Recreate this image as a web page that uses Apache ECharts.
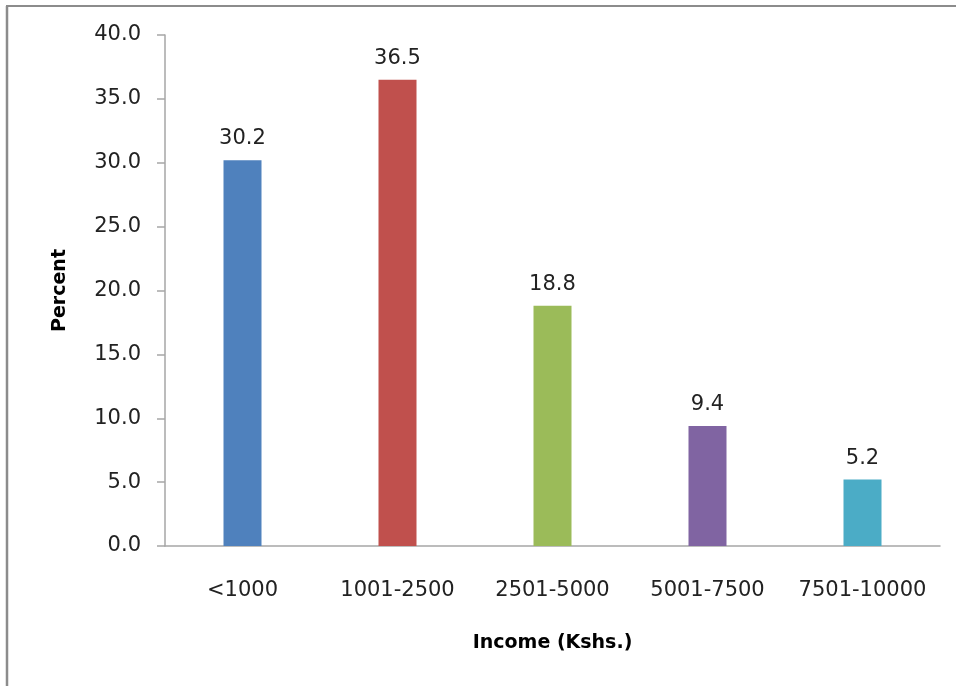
<!DOCTYPE html>
<html>
<head>
<meta charset="utf-8">
<script src="https://cdn.jsdelivr.net/npm/echarts@6/dist/echarts.min.js"></script>
<style>
  html, body { margin: 0; padding: 0; background: #ffffff; }
  #chart { width: 956px; height: 686px; }
</style>
</head>
<body>
<div id="chart"></div>
<script>
// Income groups (Kshs.) and share of respondents in each
const categories = ['<1000', '1001-2500', '2501-5000', '5001-7500', '7501-10000'];
const percents = [30.2, 36.5, 18.8, 9.4, 5.2];
const barColors = ['#4F81BD', '#C0504D', '#9BBB59', '#8064A2', '#4BACC6'];
const yTicks = { min: 0, max: 40, interval: 5 };

const labelFont = 'DejaVu Sans';
const axisGray = '#a6a6a6';

const chart = echarts.init(document.getElementById('chart'), null, { renderer: 'canvas' });

chart.setOption({
  backgroundColor: '#ffffff',
  animation: false,
  grid: { left: 165, right: 16, top: 35, bottom: 140, containLabel: false },
  xAxis: {
    type: 'category',
    data: categories,
    name: 'Income (Kshs.)',
    nameLocation: 'middle',
    nameGap: 88,
    nameTextStyle: { fontFamily: labelFont, fontWeight: 'bold', fontSize: 19, color: '#000' },
    axisLine: { lineStyle: { color: axisGray, width: 1.5 } },
    axisTick: { show: false },
    axisLabel: { interval: 0, fontFamily: labelFont, fontSize: 21, color: '#222', margin: 34 }
  },
  yAxis: {
    type: 'value',
    min: yTicks.min,
    max: yTicks.max,
    interval: yTicks.interval,
    name: 'Percent',
    nameLocation: 'middle',
    nameGap: 95,
    nameRotate: 90,
    nameTextStyle: { fontFamily: labelFont, fontWeight: 'bold', fontSize: 19, color: '#000' },
    axisLine: { show: true, lineStyle: { color: axisGray, width: 1.5 } },
    axisTick: { show: true, inside: false, length: 8, lineStyle: { color: axisGray, width: 1.5 } },
    splitLine: { show: false },
    axisLabel: {
      fontFamily: labelFont, fontSize: 21, color: '#222', margin: 24,
      formatter: v => v.toFixed(1)
    }
  },
  series: [{
    type: 'bar',
    barWidth: 38,
    data: percents.map((v, i) => ({ value: v, itemStyle: { color: barColors[i] } })),
    label: {
      show: true,
      position: 'top',
      distance: 11,
      fontFamily: labelFont,
      fontSize: 21,
      color: '#222',
      formatter: p => p.value.toFixed(1)
    }
  }],
  graphic: [
    // page frame edges
    { type: 'line', shape: { x1: 6, y1: 6, x2: 956, y2: 6 }, style: { stroke: '#8c8c8c', lineWidth: 2 } },
    { type: 'line', shape: { x1: 7, y1: 6, x2: 7, y2: 686 }, style: { stroke: '#8c8c8c', lineWidth: 2.5 } }
  ]
});
</script>
</body>
</html>
